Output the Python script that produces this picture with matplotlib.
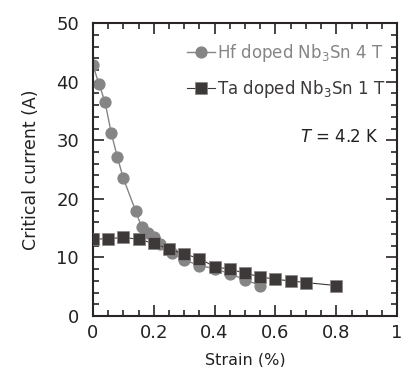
import numpy as np
import matplotlib.pyplot as plt
from matplotlib.ticker import MultipleLocator

plt.rcParams['font.family'] = ['DejaVu Sans']
plt.rcParams['mathtext.fontset'] = 'dejavusans'

# Hf doped Nb3Sn 4 T
hf_strain = [0, 0.02, 0.04, 0.06, 0.08, 0.10, 0.14, 0.16, 0.18, 0.20,
             0.22, 0.26, 0.30, 0.35, 0.40, 0.45, 0.50, 0.55]
hf_ic = [42.8, 39.6, 36.5, 31.3, 27.2, 23.5, 18.0, 15.2, 14.2, 13.4,
         12.3, 10.7, 9.6, 8.6, 8.1, 7.2, 6.2, 5.2]

# Ta doped Nb3Sn 1 T
ta_strain = [0, 0.05, 0.10, 0.15, 0.20, 0.25, 0.30, 0.35, 0.40, 0.45,
             0.50, 0.55, 0.60, 0.65, 0.70, 0.80]
ta_ic = [13.1, 13.2, 13.4, 13.1, 12.4, 11.4, 10.6, 9.8, 8.4, 8.0,
         7.3, 6.7, 6.25, 6.0, 5.7, 5.2]

hf_col = '#858585'
ta_col = '#3d3939'

fig = plt.figure(figsize=(4.04, 3.67), dpi=100)
ax = fig.add_axes([0.230, 0.139, 0.753, 0.798])

ax.plot(hf_strain, hf_ic, '-o', color=hf_col, lw=1, ms=7.8,
        mec=hf_col, label=r'Hf doped Nb$_{3}$Sn 4 T', zorder=2)
ax.plot(ta_strain, ta_ic, '-s', color=ta_col, lw=0.8, ms=8.2,
        mfc=ta_col, mec='#8a8585', mew=0.5, label=r'Ta doped Nb$_{3}$Sn 1 T', zorder=3)

ax.set_xlim(0, 1)
ax.set_ylim(0, 50)
ax.xaxis.set_minor_locator(MultipleLocator(0.05))
ax.yaxis.set_major_locator(MultipleLocator(10))
ax.yaxis.set_minor_locator(MultipleLocator(2))
ax.set_xticks([0, 0.2, 0.4, 0.6, 0.8, 1.0])
ax.set_xticklabels(['0', '0.2', '0.4', '0.6', '0.8', '1'])
ax.tick_params(which='both', direction='in', top=True, right=True,
               labelsize=13, color='#2a2525', width=1.2, labelcolor='#222222')
ax.tick_params(which='major', length=8)
ax.tick_params(which='minor', length=4)
ax.tick_params(axis='x', which='major', pad=6)
ax.tick_params(axis='y', which='major', pad=10)
for s in ax.spines.values():
    s.set_linewidth(1.5)
    s.set_color('#2a2525')

ax.set_xlabel('Strain (%)', fontsize=11.5, labelpad=7, color='#222222')
ax.set_ylabel('Critical current (A)', fontsize=12.5, labelpad=12, color='#222222')

leg = ax.legend(loc='upper right', frameon=False, fontsize=12,
                handlelength=1.7, handletextpad=0.1, borderaxespad=0.3,
                labelspacing=0.85, bbox_to_anchor=(1.0, 0.975))
for txt, c in zip(leg.get_texts(), [hf_col, ta_col]):
    txt.set_color(c)

ax.text(0.94, 0.61, '$T$ = 4.2 K', transform=ax.transAxes, ha='right',
        va='center', fontsize=12, color='#222222')

fig.savefig('out.png', dpi=100)
